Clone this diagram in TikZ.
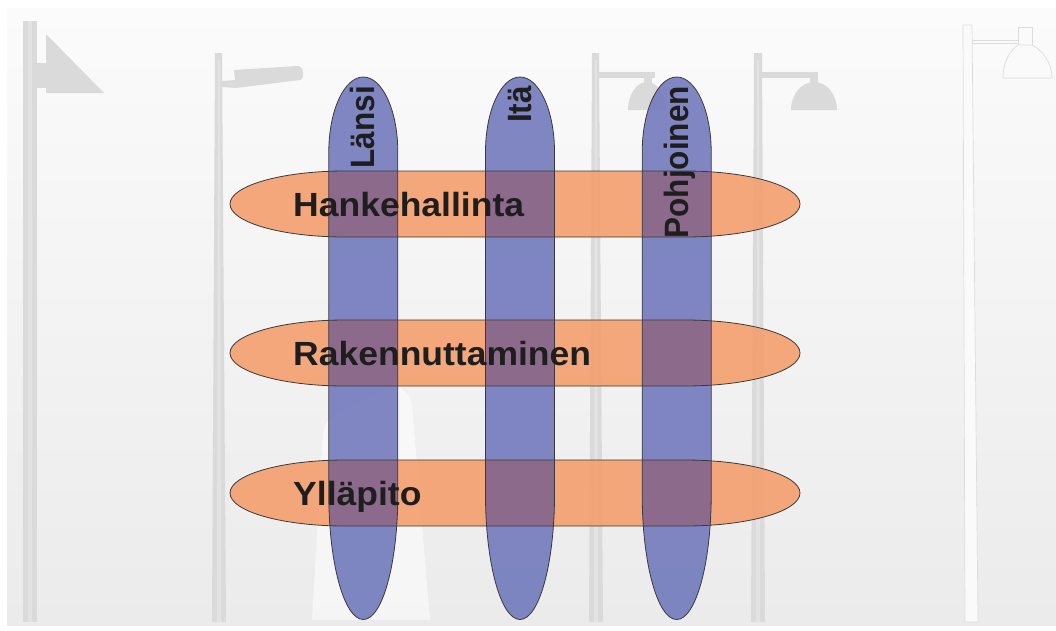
\documentclass[tikz,border=0pt]{standalone}
\usepackage{fontspec}
\setmainfont{Liberation Sans}

\definecolor{bgtop}{HTML}{FBFBFB}
\definecolor{bgbot}{HTML}{EBEBEB}
\definecolor{pole}{HTML}{DADADA}
\definecolor{polelight}{HTML}{E3E3E3}
\definecolor{palepole}{HTML}{FAFAFA}
\definecolor{paleedge}{HTML}{DCDCDC}
\definecolor{orangefill}{RGB}{244,159,109}
\definecolor{bluefill}{RGB}{114,122,189}
\definecolor{mixfill}{RGB}{139,106,140}
\definecolor{edge}{HTML}{3A3A3A}
\definecolor{ink}{HTML}{1E1E1E}

% horizontal work area: flat sides with elliptic ends, centred on #1 (y)
\newcommand\lanepath[1]{(345,#1-33) -- (685,#1-33)
  arc[start angle=90, end angle=-90, x radius=115pt, y radius=33pt]
  -- (345,#1+33)
  arc[start angle=270, end angle=90, x radius=115pt, y radius=33pt] -- cycle}
% vertical region: flat sides, short top cap, long bottom cap, centred on #1 (x)
\newcommand\regionpath[1]{(#1-34.5,152)
  arc[start angle=180, end angle=0, x radius=34.5pt, y radius=75pt]
  -- (#1+34.5,494.5)
  arc[start angle=0, end angle=-180, x radius=34.5pt, y radius=125pt] -- cycle}

\tikzset{
  lanefill/.style={fill=orangefill, fill opacity=0.9},
  regionfill/.style={fill=bluefill, fill opacity=0.9},
  hlabel/.style={inner sep=0pt, text=ink, font=\fontsize{33.5pt}{40pt}\selectfont\bfseries},
  vlabel/.style={inner sep=0pt, text=ink, rotate=90,
                 font=\fontsize{31.5pt}{38pt}\selectfont\bfseries},
  outline/.style={draw=edge, line width=0.8pt},
  palepart/.style={fill=palepole, draw=paleedge, line width=0.7pt}
}

\begin{document}
\begin{tikzpicture}[x=1pt, y=-1pt]
\useasboundingbox (0,0) rectangle (1056,630);
\fill[white] (0,0) rectangle (1056,630);
\shade[top color=bgtop, bottom color=bgbot] (7,8) rectangle (1056,625);

% street lamps in the backdrop
% lamp 1: pole with a triangular sign
\fill[pole] (23,21) rectangle (37,622);
\fill[polelight] (28,21) rectangle (32,622);
\fill[pole] (37,63) rectangle (46,88);
\fill[pole] (46,34) -- (104,93) -- (46,93) -- cycle;
% lamp 2: flat head
\fill[pole] (215,53) -- (222,53) -- (226,622) -- (212,622) -- cycle;
\fill[polelight] (218,60) -- (220,60) -- (221,622) -- (217,622) -- cycle;
\fill[pole] (222,81) -- (236,80) -- (236,88) -- (222,87) -- cycle;
\fill[pole] (234,70) -- (298,66) .. controls (304,66) and (305,79) .. (300,80)
  -- (236,88) -- cycle;
% lamp 3: dome
\fill[pole] (592,53) -- (599,53) -- (603,622) -- (589,622) -- cycle;
\fill[polelight] (595,60) -- (597,60) -- (598,622) -- (594,622) -- cycle;
\fill[pole] (599,72) rectangle (655,78);
\fill[pole] (644,78) rectangle (652,84);
\fill[pole] (628,110) arc[start angle=180, end angle=0, x radius=19pt, y radius=28pt] -- cycle;
% lamp 4: dome
\fill[pole] (754,53) -- (762,53) -- (765,622) -- (751,622) -- cycle;
\fill[polelight] (757,60) -- (759,60) -- (760,622) -- (756,622) -- cycle;
\fill[pole] (762,72) rectangle (818,78);
\fill[pole] (810,78) rectangle (818,84);
\fill[pole] (791,110) arc[start angle=180, end angle=0, x radius=23pt, y radius=28pt] -- cycle;
% lamp 5: pale bell lamp
\path[palepart] (963,25) -- (972,25) -- (978,622) -- (965,622) -- cycle;
\path[palepart] (972,40) rectangle (1018,43);
\path[palepart] (1018,27) rectangle (1032,46);
\path[palepart] (1018,45) .. controls (1010,50) and (1003,62) .. (1003,78)
  -- (1052,78) .. controls (1052,62) and (1042,50) .. (1032,45) -- cycle;

% pale figure standing behind the chart
\fill[white, opacity=0.55] (312,620) -- (323,434) .. controls (324,426) and (327,421) .. (331,418)
  -- (394,386) .. controls (404,388) and (410,395) .. (412,405) -- (430,620) -- cycle;

% anchor points of the work areas and regions
\coordinate (hanke) at (515,204);
\coordinate (rakennus) at (515,353);
\coordinate (yllapito) at (515,493);
\coordinate (lansi) at (363.3,348);
\coordinate (ita) at (520,348);
\coordinate (pohjoinen) at (676.7,348);

% fills
\foreach \cy in {204,353,493} \fill[lanefill] \lanepath{\cy};
\foreach \cx in {363.3,520,676.7} \fill[regionfill] \regionpath{\cx};

% crossings of areas and regions
\foreach \cy in {204,353,493}{
  \begin{scope}
    \clip \lanepath{\cy};
    \foreach \cx in {363.3,520,676.7} \fill[mixfill] \regionpath{\cx};
  \end{scope}
}

% outlines
\foreach \cy in {204,353,493} \draw[outline] \lanepath{\cy};
\foreach \cx in {363.3,520,676.7} \draw[outline] \regionpath{\cx};

% labels
\node[hlabel, anchor=base west] (thanke) at ([xshift=-222pt, yshift=-12pt]hanke) {\scalebox{1.06}[1]{Hankehallinta}};
\node[hlabel, anchor=base west] (trakennus) at ([xshift=-222pt, yshift=-12pt]rakennus) {\scalebox{1.06}[1]{Rakennuttaminen}};
\node[hlabel, anchor=base west] (tyllapito) at ([xshift=-222pt, yshift=-12pt]yllapito) {\scalebox{1.06}[1]{Ylläpito}};

\node[vlabel, anchor=base east] (tlansi) at (374,86) {\scalebox{1}[1.07]{Länsi}};
\node[vlabel, anchor=base east] (tita) at (531,86) {\scalebox{1}[1.07]{Itä}};
\node[vlabel, anchor=base east] (tpohjoinen) at (688,86) {\scalebox{1}[1.07]{Pohjoinen}};
\end{tikzpicture}
\end{document}
